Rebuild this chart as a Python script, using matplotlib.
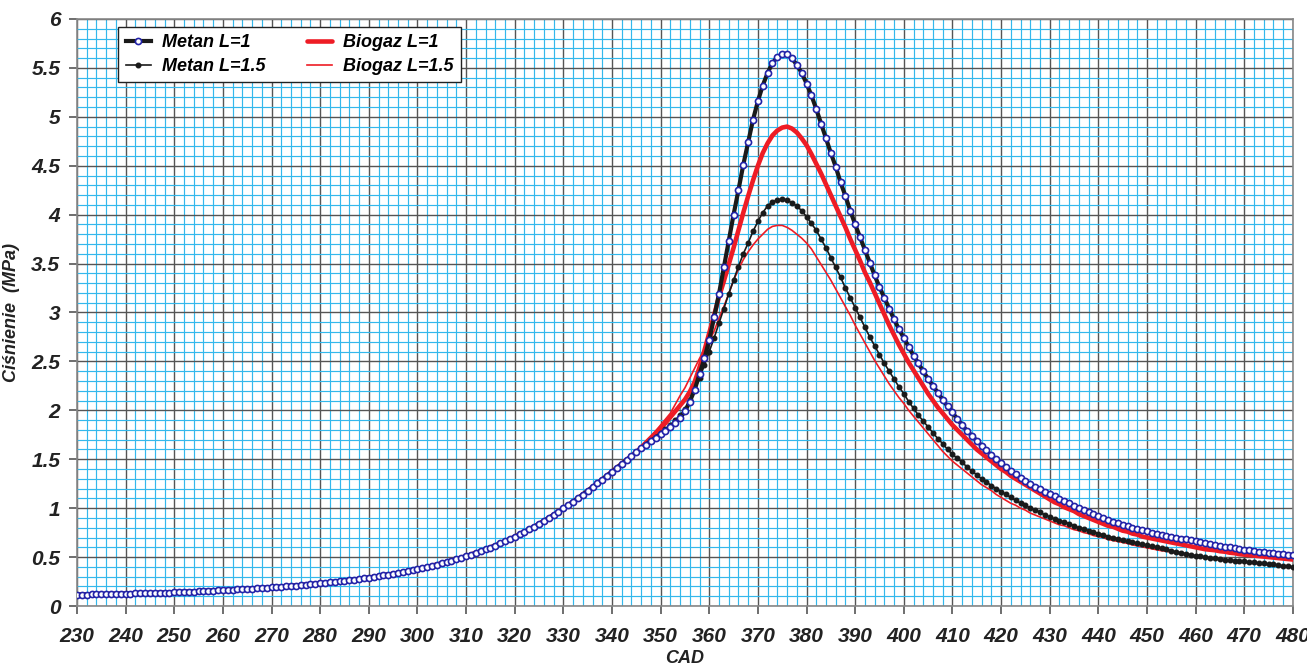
import numpy as np
import matplotlib
matplotlib.use("Agg")
import matplotlib.pyplot as plt
from matplotlib.ticker import MultipleLocator, FuncFormatter

plt.rcParams['font.family'] = ['Liberation Sans', 'DejaVu Sans']
plt.rcParams['font.weight'] = 'bold'
plt.rcParams['font.style'] = 'italic'

# ---- data ----
cad = np.arange(230, 481)   # crank angle, degrees

# compression part 230..345, common for all four curves
compression = [
    0.115, 0.116, 0.117, 0.118, 0.119, 0.120, 0.121, 0.122, 0.124, 0.125,
    0.126, 0.127, 0.128, 0.130, 0.131, 0.132, 0.134, 0.135, 0.137, 0.138,
    0.140, 0.142, 0.144, 0.146, 0.148, 0.150, 0.152, 0.154, 0.156, 0.159,
    0.161, 0.164, 0.166, 0.169, 0.172, 0.175, 0.178, 0.181, 0.184, 0.187,
    0.190, 0.194, 0.197, 0.201, 0.205, 0.209, 0.213, 0.217, 0.222, 0.226,
    0.231, 0.236, 0.241, 0.246, 0.252, 0.257, 0.263, 0.269, 0.276, 0.283,
    0.290, 0.297, 0.305, 0.313, 0.321, 0.329, 0.338, 0.348, 0.357, 0.367,
    0.378, 0.389, 0.400, 0.412, 0.424, 0.437, 0.450, 0.464, 0.479, 0.494,
    0.509, 0.526, 0.543, 0.560, 0.579, 0.598, 0.618, 0.639, 0.661, 0.684,
    0.707, 0.732, 0.757, 0.784, 0.811, 0.840, 0.869, 0.900, 0.931, 0.964,
    0.997, 1.031, 1.066, 1.102, 1.139, 1.177, 1.215, 1.254, 1.293, 1.333,
    1.373, 1.413, 1.453, 1.493, 1.533, 1.572,
]

# combustion / expansion part 346..480
metan_l1_tail = [
    1.61, 1.65, 1.69, 1.72, 1.76, 1.79, 1.83, 1.87, 1.92, 1.99,
    2.09, 2.21, 2.37, 2.53, 2.72, 2.95, 3.19, 3.46, 3.73, 4.00,
    4.25, 4.51, 4.74, 4.97, 5.16, 5.32, 5.45, 5.55, 5.61, 5.64,
    5.64, 5.60, 5.53, 5.45, 5.34, 5.22, 5.08, 4.93, 4.78, 4.63,
    4.49, 4.33, 4.19, 4.04, 3.90, 3.77, 3.64, 3.51, 3.38, 3.26,
    3.15, 3.04, 2.93, 2.83, 2.74, 2.65, 2.56, 2.48, 2.40, 2.32,
    2.25, 2.18, 2.11, 2.04, 1.98, 1.91, 1.85, 1.79, 1.74, 1.69,
    1.64, 1.59, 1.54, 1.50, 1.46, 1.42, 1.38, 1.35, 1.31, 1.28,
    1.25, 1.22, 1.20, 1.17, 1.14, 1.12, 1.09, 1.07, 1.05, 1.02,
    1.00, 0.98, 0.96, 0.94, 0.92, 0.90, 0.88, 0.86, 0.85, 0.83,
    0.82, 0.80, 0.79, 0.78, 0.77, 0.75, 0.74, 0.73, 0.72, 0.71,
    0.70, 0.69, 0.68, 0.67, 0.66, 0.65, 0.64, 0.63, 0.62, 0.615,
    0.605, 0.60, 0.59, 0.58, 0.575, 0.57, 0.56, 0.555, 0.55, 0.545,
    0.54, 0.535, 0.53, 0.525, 0.52,
]

metan_l15_tail = [
    1.61, 1.65, 1.69, 1.73, 1.77, 1.81, 1.85, 1.90, 1.95, 2.01,
    2.11, 2.21, 2.33, 2.46, 2.60, 2.74, 2.89, 3.04, 3.19, 3.33,
    3.47, 3.60, 3.71, 3.83, 3.93, 4.02, 4.09, 4.13, 4.15, 4.16,
    4.15, 4.12, 4.09, 4.04, 3.98, 3.91, 3.84, 3.75, 3.66, 3.56,
    3.46, 3.36, 3.25, 3.15, 3.05, 2.95, 2.85, 2.75, 2.66, 2.57,
    2.48, 2.40, 2.32, 2.24, 2.17, 2.09, 2.02, 1.95, 1.89, 1.83,
    1.77, 1.71, 1.66, 1.60, 1.55, 1.51, 1.47, 1.42, 1.38, 1.34,
    1.30, 1.27, 1.23, 1.20, 1.17, 1.14, 1.11, 1.08, 1.05, 1.03,
    1.00, 0.98, 0.96, 0.93, 0.91, 0.89, 0.87, 0.86, 0.84, 0.82,
    0.80, 0.79, 0.77, 0.76, 0.74, 0.73, 0.71, 0.70, 0.69, 0.675,
    0.665, 0.65, 0.64, 0.63, 0.62, 0.61, 0.60, 0.59, 0.58, 0.565,
    0.555, 0.545, 0.535, 0.525, 0.515, 0.51, 0.50, 0.495, 0.49, 0.48,
    0.475, 0.47, 0.465, 0.46, 0.455, 0.45, 0.445, 0.44, 0.435, 0.43,
    0.425, 0.42, 0.41, 0.405, 0.40,
]

biogaz_l1_tail = [
    1.62, 1.67, 1.72, 1.77, 1.82, 1.87, 1.93, 1.99, 2.05, 2.11,
    2.19, 2.29, 2.44, 2.61, 2.79, 2.97, 3.16, 3.32, 3.49, 3.66,
    3.84, 4.02, 4.19, 4.35, 4.50, 4.63, 4.73, 4.81, 4.86, 4.89,
    4.90, 4.88, 4.84, 4.78, 4.71, 4.62, 4.52, 4.42, 4.31, 4.20,
    4.09, 3.98, 3.87, 3.75, 3.64, 3.53, 3.41, 3.31, 3.20, 3.09,
    2.98, 2.87, 2.77, 2.67, 2.58, 2.49, 2.41, 2.33, 2.25, 2.17,
    2.10, 2.03, 1.97, 1.91, 1.85, 1.80, 1.75, 1.70, 1.65, 1.60,
    1.56, 1.52, 1.48, 1.44, 1.40, 1.37, 1.33, 1.30, 1.27, 1.24,
    1.21, 1.18, 1.15, 1.12, 1.09, 1.06, 1.04, 1.01, 0.99, 0.97,
    0.94, 0.92, 0.90, 0.88, 0.86, 0.84, 0.82, 0.81, 0.79, 0.77,
    0.76, 0.74, 0.73, 0.71, 0.70, 0.69, 0.68, 0.67, 0.66, 0.65,
    0.64, 0.63, 0.62, 0.61, 0.60, 0.59, 0.58, 0.575, 0.57, 0.56,
    0.555, 0.545, 0.54, 0.53, 0.525, 0.52, 0.515, 0.51, 0.505, 0.50,
    0.495, 0.49, 0.485, 0.48, 0.475,
]

biogaz_l15_tail = [
    1.63, 1.68, 1.73, 1.79, 1.85, 1.91, 1.97, 2.06, 2.15, 2.23,
    2.33, 2.43, 2.53, 2.62, 2.71, 2.81, 2.94, 3.06, 3.19, 3.33,
    3.44, 3.54, 3.62, 3.69, 3.75, 3.80, 3.85, 3.88, 3.89, 3.89,
    3.87, 3.84, 3.80, 3.76, 3.71, 3.65, 3.57, 3.49, 3.41, 3.33,
    3.24, 3.15, 3.06, 2.97, 2.87, 2.78, 2.69, 2.60, 2.51, 2.43,
    2.35, 2.27, 2.20, 2.13, 2.07, 2.00, 1.94, 1.88, 1.82, 1.76,
    1.70, 1.64, 1.58, 1.53, 1.48, 1.44, 1.40, 1.36, 1.32, 1.28,
    1.24, 1.21, 1.18, 1.14, 1.11, 1.08, 1.05, 1.03, 1.00, 0.98,
    0.95, 0.93, 0.91, 0.89, 0.87, 0.85, 0.83, 0.82, 0.80, 0.78,
    0.77, 0.75, 0.74, 0.72, 0.71, 0.70, 0.68, 0.67, 0.66, 0.65,
    0.64, 0.625, 0.615, 0.605, 0.595, 0.585, 0.575, 0.565, 0.56, 0.55,
    0.54, 0.53, 0.525, 0.515, 0.51, 0.50, 0.495, 0.49, 0.48, 0.475,
    0.47, 0.46, 0.455, 0.45, 0.445, 0.44, 0.435, 0.43, 0.425, 0.42,
    0.415, 0.41, 0.405, 0.40, 0.395,
]

metan_l1 = compression + metan_l1_tail
metan_l15 = compression + metan_l15_tail
biogaz_l1 = compression + biogaz_l1_tail
biogaz_l15 = compression + biogaz_l15_tail

labels = ["Metan L=1", "Metan L=1.5", "Biogaz L=1", "Biogaz L=1.5"]
x_ticks = list(range(230, 481, 10))

# ---- figure ----
fig = plt.figure(figsize=(13.07, 6.68), dpi=100)
ax = fig.add_axes([0.0589, 0.0928, 0.9303, 0.8788])

red = '#ee1c25'
l3, = ax.plot(cad, biogaz_l1, color=red, lw=3.3, zorder=3, label=labels[2],
              solid_capstyle='round')
l4, = ax.plot(cad, biogaz_l15, color=red, lw=1.2, zorder=3.1, label=labels[3])
l2, = ax.plot(cad, metan_l15, color='#1a1a1a', lw=1.2, marker='o', ms=3.3,
              mfc='#1a1a1a', mec='#1a1a1a', zorder=3.2, label=labels[1])
l1, = ax.plot(cad, metan_l1, color='#1a1a1a', lw=3.0, marker='o', ms=4.4,
              mfc='white', mec='#2222a8', mew=1.2, zorder=3.3, label=labels[0])

ax.set_xlim(230, 480)
ax.set_ylim(0, 6)
ax.set_xticks(x_ticks)
ax.xaxis.set_minor_locator(MultipleLocator(2))
ax.yaxis.set_major_locator(MultipleLocator(0.5))
ax.yaxis.set_minor_locator(MultipleLocator(0.1))
ax.yaxis.set_major_formatter(FuncFormatter(lambda v, p: f"{v:g}"))

ax.grid(which='minor', color='#33b8ec', lw=0.85, zorder=0)
ax.grid(which='major', color='#555555', lw=1.0, zorder=0.5)
ax.set_axisbelow(True)

ax.tick_params(which='minor', length=0)
ax.tick_params(which='major', length=6, width=1.2, color='#555555',
               labelsize=15, labelcolor='#222222')
ax.tick_params(axis='x', pad=9)
ax.tick_params(axis='y', pad=6)

for s in ax.spines.values():
    s.set_color('#888888')
    s.set_linewidth(1.2)

ax.set_xlabel("CAD", fontsize=13, fontweight='bold', color='#222222',
              labelpad=3)
ax.set_ylabel("Ciśnienie  (MPa)", fontsize=13, fontweight='bold',
              color='#222222', labelpad=8)

leg = ax.legend(handles=[l1, l2, l3, l4], ncol=2, loc='upper left',
                bbox_to_anchor=(0.034, 0.987), fontsize=13, frameon=True,
                fancybox=False, edgecolor='#222222', framealpha=1,
                handlelength=1.4, handletextpad=0.6, columnspacing=2.3,
                borderpad=0.4, labelspacing=0.4, borderaxespad=0)
leg.get_frame().set_linewidth(1.0)
leg.set_zorder(10)

fig.savefig("out.png", dpi=100)
